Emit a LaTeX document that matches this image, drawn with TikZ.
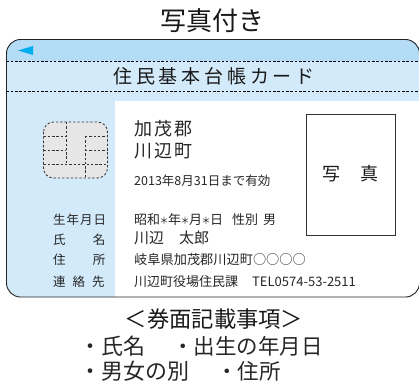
\documentclass[tikz,border=0pt]{standalone}
\usepackage{fontspec}
\setmainfont{Noto Sans CJK JP}
\newfontfamily\jp{Noto Sans CJK JP}
\newfontfamily\jpB[LetterSpace=20]{Noto Sans CJK JP}
\newfontfamily\jpC[LetterSpace=11]{Noto Sans CJK JP}
\newfontfamily\jpD[LetterSpace=8]{Noto Sans CJK JP}
\newcommand{\starmark}{\makebox[8pt]{\fontsize{9.5}{9.5}\selectfont ＊}}
\definecolor{bandtop}{HTML}{B5DCF6}
\definecolor{bandlight}{HTML}{D2EAFA}
\definecolor{marker}{HTML}{00AEEF}
\definecolor{chipfill}{HTML}{E6E6E6}
\definecolor{cardline}{HTML}{222222}
\tikzset{
  lbl/.style={anchor=west,inner sep=0pt,text=black!85},
  ctr/.style={anchor=center,inner sep=0pt,text=black!90},
  fold/.style={line width=0.8pt,black,dash pattern=on 2.6pt off 1.7pt},
  chipline/.style={line width=0.85pt,black!80,dash pattern=on 2.4pt off 1.9pt},
}
\begin{document}
\begin{tikzpicture}[x=1pt,y=-1pt]
\useasboundingbox (0,0) rectangle (419,385);
\def\cardshape{[rounded corners=14pt] (6.5,39.5) -- (419.5,39.5) -- (419.5,297) -- (6.5,297) -- cycle}
\fill[white] \cardshape;
\begin{scope}
\clip \cardshape;
\fill[bandlight] (0,30) rectangle (115,300);
\fill[bandlight] (115,61) rectangle (420,101);
\fill[bandtop] (0,30) rectangle (420,61);
\end{scope}
\draw[cardline,line width=0.9pt] \cardshape;
\draw[fold] (6.5,61) -- (419,61);
\draw[fold] (6.5,91) -- (419,91);
\fill[marker] (18,50.5) -- (33,46) -- (33,55) -- cycle;
% chip
\draw[chipline,fill=chipfill,rounded corners=10pt] (43.5,122) rectangle (107.5,178);
\draw[chipline] (66,122) -- (66,164);
\draw[chipline] (85,136) -- (85,178);
\draw[chipline] (43.5,136) -- (66,136);
\draw[chipline] (85,136) -- (107.5,136);
\draw[chipline] (43.5,150) -- (66,150);
\draw[chipline] (85,150) -- (107.5,150);
\draw[chipline] (43.5,164) -- (107.5,164);
% photo
\draw[black!80,line width=0.9pt] (306,114.5) rectangle (395,235);
\node[ctr,font=\jp\fontsize{18}{18}\selectfont] (photo) at (350.5,173.5) {写\hspace{20pt}真};
% titles
\node[ctr,font=\jp\fontsize{26}{26}\selectfont] (title) at (212,20.5) {写真付き};
\node[ctr,font=\jpB\fontsize{19}{19}\selectfont] (band) at (214,76) {住民基本台帳カード};
% card text
\node[lbl,font=\jpC\fontsize{18}{18}\selectfont] (t1) at (134,128.5) {加茂郡};
\node[lbl,font=\jpC\fontsize{18}{18}\selectfont] (t2) at (134,151) {川辺町};
\node[lbl,font=\jp\fontsize{12.5}{12.5}\selectfont] (t3) at (134,180.5) {2013年8月31日まで有効};
\node[lbl,font=\jp\fontsize{13}{13}\selectfont] (t4) at (134,219.5) {昭和\starmark 年\starmark 月\starmark 日\hspace{9pt}性別\hspace{5pt}男};
\node[lbl,font=\jp\fontsize{15}{15}\selectfont] (t5) at (134,238) {川辺　太郎};
\node[lbl,font=\jp\fontsize{13.2}{13.2}\selectfont] (t6) at (134,260) {岐阜県加茂郡川辺町○○○○};
\node[lbl,font=\jp\fontsize{13}{13}\selectfont] (t7) at (134,282) {川辺町役場住民課};
\node[lbl,font=\jp\fontsize{13}{13}\selectfont] (t8) at (252,282) {TEL0574-53-2511};
% left labels
\node[lbl,font=\jpD\fontsize{12.5}{12.5}\selectfont] (l1) at (53,219.5) {生年月日};
\node[lbl,font=\jp\fontsize{12.5}{12.5}\selectfont] (l2a) at (53,240) {氏};
\node[lbl,anchor=east,font=\jp\fontsize{12.5}{12.5}\selectfont] (l2b) at (105.5,240) {名};
\node[lbl,font=\jp\fontsize{12.5}{12.5}\selectfont] (l3a) at (53,260) {住};
\node[lbl,anchor=east,font=\jp\fontsize{12.5}{12.5}\selectfont] (l3b) at (105.5,260) {所};
\node[lbl,font=\jp\fontsize{12.5}{12.5}\selectfont] (l4) at (53,282) {連\hspace{7pt}絡\hspace{7pt}先};
% bottom
\node[ctr,font=\jp\fontsize{22.3}{22.3}\selectfont] (b1) at (214,319) {＜券面記載事項＞};
\node[lbl,font=\jp\fontsize{22}{22}\selectfont] (b2) at (79,346) {・氏名};
\node[lbl,font=\jp\fontsize{21.5}{21.5}\selectfont] (b2b) at (172,346) {・出生の年月日};
\node[lbl,font=\jp\fontsize{22}{22}\selectfont] (b3) at (79,371) {・男女の別};
\node[lbl,font=\jp\fontsize{21.5}{21.5}\selectfont] (b3b) at (216,371) {・住所};
\end{tikzpicture}
\end{document}
